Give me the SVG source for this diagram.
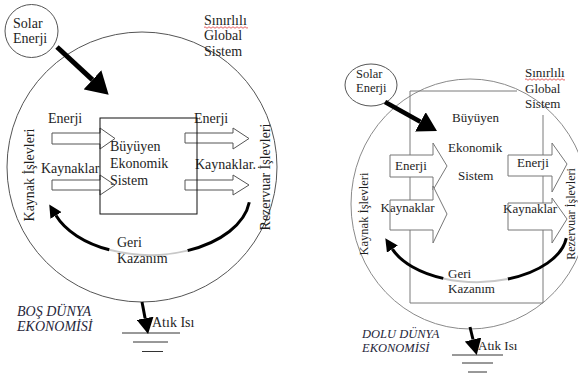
<svg xmlns="http://www.w3.org/2000/svg" width="578" height="375" viewBox="0 0 578 375">
<style>
text{font-family:"Liberation Serif","Times New Roman",serif;fill:#1e1e1e}
.L{font-size:14px}
.R{font-size:13px}
.Rs{font-size:12.5px}
.Rx{font-size:12px}
.it{font-style:italic;fill:#26263a}
.boundL{fill:none;stroke:#555;stroke-width:1}
.boundR{fill:none;stroke:#8a8a8a;stroke-width:1}
.sun{fill:#fff;stroke:#555;stroke-width:1}
.boxL{fill:none;stroke:#111;stroke-width:1}
.boxR{fill:none;stroke:#7a7a7a;stroke-width:1}
.flowL{fill:none;stroke:#555;stroke-width:1}
.flowR{fill:#fff;stroke:#777;stroke-width:1}
.geri{fill:none;stroke:#000;stroke-width:3}
.gap{fill:none;stroke:#c8c8c8;stroke-width:2}
.ground{stroke:#333;stroke-width:1}
.spell{fill:none;stroke:#e03c3c;stroke-width:0.8}
</style>
<defs>
<marker id="headBig" markerUnits="userSpaceOnUse" markerWidth="22" markerHeight="26" viewBox="0 0 22 26" refX="0" refY="13" orient="auto"><path d="M0,0 L22,13 L0,26 z" fill="#000"/></marker>
<marker id="headMid" markerUnits="userSpaceOnUse" markerWidth="19" markerHeight="22" viewBox="0 0 19 22" refX="0" refY="11" orient="auto"><path d="M0,0 L19,11 L0,22 z" fill="#000"/></marker>
<marker id="headSmall" markerUnits="userSpaceOnUse" markerWidth="16" markerHeight="17" viewBox="0 0 16 17" refX="0" refY="8.5" orient="auto"><path d="M0,0 L16,8.5 L0,17 z" fill="#000"/></marker>
<marker id="headGeri" markerUnits="userSpaceOnUse" markerWidth="13" markerHeight="13" viewBox="0 0 13 13" refX="0" refY="6.5" orient="auto"><path d="M0,0 L13,6.5 L0,13 z" fill="#000"/></marker>
</defs>

<!-- LEFT: BOS DUNYA -->
<g id="left-global-system">
<circle class="boundL" cx="142" cy="167" r="135"/>
<text class="L" x="204" y="25">Sınırlılı</text>
<path class="spell" d="M204,27.5 q1,-1.5 2,0 t2,0 t2,0 t2,0 t2,0 t2,0 t2,0 t2,0 t2,0 t2,0 t2,0 t2,0 t2,0 t2,0 t2,0 t2,0 t2,0 t2,0 t2,0 t2,0 t2,0 t2,0"/>
<text class="L" x="204" y="40">Global</text>
<text class="L" x="204" y="56">Sistem</text>
<text class="L" transform="translate(34,175) rotate(-90)" text-anchor="middle">Kaynak İşlevleri</text>
<text class="L" transform="translate(270,177) rotate(-90)" text-anchor="middle">Rezervuar İşlevleri</text>
</g>
<g id="left-solar">
<circle class="sun" cx="31.5" cy="31" r="26.5"/>
<text class="L" x="13" y="28">Solar</text>
<text class="L" x="13" y="43">Enerji</text>
</g>
<g id="left-inputs">
<polygon class="flowL" points="52,133 100,133 100,128 115,138.5 100,149 100,144 52,144"/>
<polygon class="flowL" points="52,180 100,180 100,175 115,185 100,195 100,190 52,190"/>
<text class="L" x="48" y="123">Enerji</text>
<text class="L" x="41" y="173">Kaynaklar</text>
</g>
<g id="left-outputs">
<polygon class="flowL" points="185,133 233,133 233,128 249,138.5 233,149 233,143 185,143"/>
<polygon class="flowL" points="185,180 233,180 233,175 249,185 233,195 233,190 185,190"/>
<text class="L" x="194" y="123">Enerji</text>
<text class="L" x="195" y="169">Kaynaklar.</text>
</g>
<g id="left-economy">
<rect class="boxL" x="100" y="118" width="97" height="96"/>
<text class="L" x="110" y="151">Büyüyen</text>
<text class="L" x="110" y="168">Ekonomik</text>
<text class="L" x="110" y="185">Sistem</text>
</g>
<g id="left-recycling">
<text class="L" x="117" y="247">Geri</text>
<text class="L" x="117" y="263">Kazanım</text>
</g>
<g id="left-waste-heat">
<line class="ground" x1="122" y1="333" x2="180" y2="333"/>
<line class="ground" x1="133" y1="342" x2="168" y2="342"/>
<line class="ground" x1="142" y1="351.5" x2="163" y2="351.5"/>
<text class="L" x="152" y="327">Atık Isı</text>
</g>
<g id="left-caption">
<text class="L it" x="17" y="316">BOŞ DÜNYA</text>
<text class="L it" x="17" y="331">EKONOMİSİ</text>
</g>

<!-- RIGHT: DOLU DUNYA -->
<g id="right-global-system">
<ellipse class="boundR" cx="470" cy="204" rx="119" ry="125"/>
<text class="R" x="525" y="77">Sınırlılı</text>
<path class="spell" d="M525,79.5 q1,-1.5 2,0 t2,0 t2,0 t2,0 t2,0 t2,0 t2,0 t2,0 t2,0 t2,0 t2,0 t2,0 t2,0 t2,0 t2,0 t2,0 t2,0 t2,0 t2,0 t2,0"/>
<text class="R" x="525" y="92.5">Global</text>
<text class="R" x="525" y="108">Sistem</text>
<text class="Rs" transform="translate(368,214) rotate(-90)" text-anchor="middle">Kaynak İşlevleri</text>
<text class="Rx" transform="translate(575,214) rotate(-90)" text-anchor="middle">Rezervuar İşlevleri</text>
</g>
<g id="right-economy">
<path class="boxR" d="M517,91 H410 V303 H543 V115"/>
<text class="R" x="452" y="122">Büyüyen</text>
<text class="R" x="448" y="152">Ekonomik</text>
<text class="R" x="458" y="180">Sistem</text>
</g>
<g id="right-inputs">
<polygon class="flowR" points="390,155 433,155 433,143 447,166 433,190 433,177 390,177"/>
<polygon class="flowR" points="390,200 433,200 433,186 447,214 433,243 433,230 390,230"/>
<text class="R" x="395" y="170">Enerji</text>
<text class="R" x="380.5" y="212">Kaynaklar</text>
</g>
<g id="right-outputs">
<polygon class="flowR" points="508,155 552,155 552,143 567,164 552,192 552,176 508,176"/>
<polygon class="flowR" points="508,203 552,203 552,198 567,219 552,243 552,230 508,230"/>
<text class="R" x="517" y="167">Enerji</text>
<text class="R" x="503" y="213">Kaynaklar</text>
</g>
<g id="right-solar">
<ellipse class="sun" cx="371" cy="85" rx="26" ry="21"/>
<text class="Rs" x="356" y="78">Solar</text>
<text class="Rs" x="356" y="91.5">Enerji</text>
</g>
<g id="right-recycling">
<text class="R" x="448" y="278">Geri</text>
<text class="R" x="448" y="293">Kazanım</text>
</g>
<g id="right-waste-heat">
<line class="ground" x1="452" y1="355" x2="503" y2="355"/>
<line class="ground" x1="462" y1="363" x2="493" y2="363"/>
<line class="ground" x1="468" y1="372" x2="487" y2="372"/>
<text class="R" x="478" y="350">Atık Isı</text>
</g>
<g id="right-caption">
<text class="Rs it" x="362" y="338">DOLU DÜNYA</text>
<text class="Rs it" x="362" y="352">EKONOMİSİ</text>
</g>

<g id="connectors">
<line x1="57" y1="47" x2="92.5" y2="79.8" stroke="#000" stroke-width="5" marker-end="url(#headBig)"/>
<line x1="385" y1="102" x2="420.4" y2="121.8" stroke="#000" stroke-width="4.5" marker-end="url(#headMid)"/>
<line x1="142" y1="302" x2="145.1" y2="318.3" stroke="#000" stroke-width="3" marker-end="url(#headSmall)"/>
<line x1="470" y1="327" x2="473" y2="339.5" stroke="#000" stroke-width="3" marker-end="url(#headSmall)"/>
<path class="geri" d="M249.3,202.3 A100,60 0 0 1 187.5,250.6"/>
<path class="gap" d="M187.5,250.6 A100,60 0 0 1 109.3,249.8"/>
<path class="geri" d="M109.3,249.8 A100,60 0 0 1 56,215.5" marker-end="url(#headGeri)"/>
<path class="geri" d="M566.3,238.1 A90,50 0 0 1 507.8,279"/>
<path class="gap" d="M507.8,279 A90,50 0 0 1 443.3,278.4"/>
<path class="geri" d="M443.3,278.4 A90,50 0 0 1 392.4,249.1" marker-end="url(#headGeri)"/>
</g>
</svg>
